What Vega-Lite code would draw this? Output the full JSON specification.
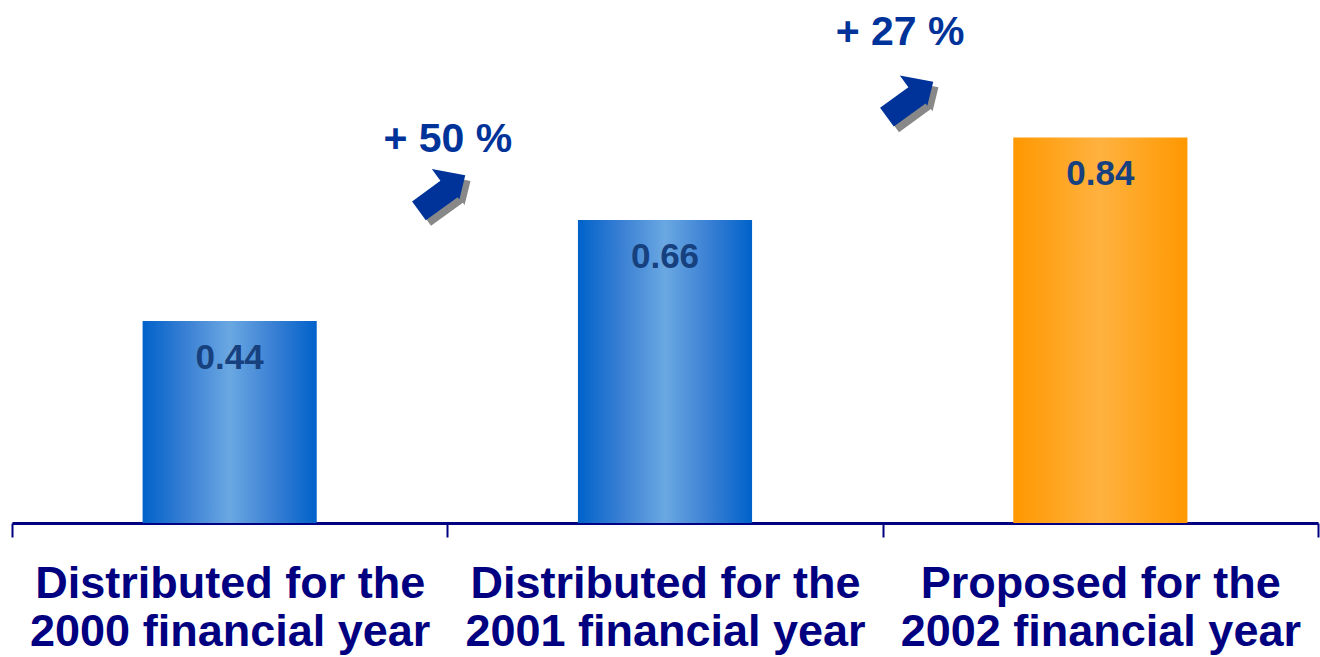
{
  "$schema": "https://vega.github.io/schema/vega-lite/v6.json",
  "width": 1306,
  "height": 523,
  "autosize": {"type": "none"},
  "padding": {"left": 12, "top": 0, "right": 2, "bottom": 134},
  "background": "white",
  "config": {"view": {"stroke": null}},
  "layer": [
    {
      "data": {"values": [
        {"cat": "Distributed for the|2000 financial year", "value": 0.44, "kind": "blue"},
        {"cat": "Distributed for the|2001 financial year", "value": 0.66, "kind": "blue"},
        {"cat": "Proposed for the|2002 financial year", "value": 0.84, "kind": "orange"}
      ]},
      "encoding": {
        "x": {
          "field": "cat", "type": "nominal", "sort": null,
          "scale": {"paddingInner": 0, "paddingOuter": 0},
          "axis": {
            "title": null, "labelAngle": 0,
            "labelExpr": "split(datum.label, '|')",
            "labelFont": "Liberation Sans", "labelFontWeight": "bold",
            "labelFontSize": 45, "labelLineHeight": 48, "labelColor": "#000080",
            "labelBaseline": "alphabetic", "labelPadding": 60,
            "domainColor": "#000080", "domainWidth": 3,
            "tickColor": "#000080", "tickWidth": 2, "tickSize": 14,
            "tickBand": "extent", "labelLimit": 0, "grid": false
          }
        },
        "y": {"field": "value", "type": "quantitative", "scale": {"domain": [0, 1.1394], "nice": false}, "axis": null}
      },
      "layer": [
        {
          "transform": [{"filter": "datum.kind == 'blue'"}],
          "mark": {"type": "bar", "width": {"band": 0.4}, "fill": {"gradient": "linear", "x1": 0, "x2": 1, "y1": 0, "y2": 0,
            "stops": [
              {"offset": 0, "color": "#0062CA"},
              {"offset": 0.25, "color": "#3A80D4"},
              {"offset": 0.5, "color": "#6AA8E2"},
              {"offset": 0.75, "color": "#3A80D4"},
              {"offset": 1, "color": "#0062CA"}
            ]}}
        },
        {
          "transform": [{"filter": "datum.kind == 'orange'"}],
          "mark": {"type": "bar", "width": {"band": 0.4}, "fill": {"gradient": "linear", "x1": 0, "x2": 1, "y1": 0, "y2": 0,
            "stops": [
              {"offset": 0, "color": "#FF9800"},
              {"offset": 0.5, "color": "#FFB240"},
              {"offset": 1, "color": "#FF9800"}
            ]}}
        },
        {
          "mark": {"type": "text", "baseline": "alphabetic", "dy": 48, "font": "Liberation Sans", "fontWeight": "bold", "fontSize": 35, "color": "#17407E"},
          "encoding": {"text": {"field": "value", "type": "quantitative", "format": ".2f"}}
        }
      ]
    },
    {
      "data": {"values": [
        {"px": 0.987, "py": 0.72, "sx": 0.999, "sy": 0.708, "pct": "+ 50 %", "tx": 1.001, "ty": 0.808},
        {"px": 2.062, "py": 0.924, "sx": 2.074, "sy": 0.912, "pct": "+ 27 %", "tx": 2.04, "ty": 1.041}
      ]},
      "layer": [
        {
          "mark": {"type": "point", "filled": true, "opacity": 1, "color": "#888888", "size": 3400, "angle": -36,
            "shape": "M -1 -0.35 L 0.2 -0.35 L 0.2 -0.85 L 1 0 L 0.35 0.55 L 0.35 0.45 L -1 0.45 Z"},
          "encoding": {
            "x": {"field": "sx", "type": "quantitative", "scale": {"domain": [0, 3], "nice": false, "zero": false}, "axis": null},
            "y": {"field": "sy", "type": "quantitative"}
          }
        },
        {
          "mark": {"type": "point", "filled": true, "opacity": 1, "color": "#003399", "size": 3400, "angle": -36,
            "shape": "M -1 -0.35 L 0.2 -0.35 L 0.2 -0.85 L 1 0 L 0.35 0.55 L 0.35 0.45 L -1 0.45 Z"},
          "encoding": {
            "x": {"field": "px", "type": "quantitative", "scale": {"domain": [0, 3], "nice": false, "zero": false}, "axis": null},
            "y": {"field": "py", "type": "quantitative"}
          }
        },
        {
          "mark": {"type": "text", "baseline": "alphabetic", "align": "center", "font": "Liberation Sans", "fontWeight": "bold", "fontSize": 41, "color": "#003399"},
          "encoding": {
            "x": {"field": "tx", "type": "quantitative", "scale": {"domain": [0, 3], "nice": false, "zero": false}, "axis": null},
            "y": {"field": "ty", "type": "quantitative"},
            "text": {"field": "pct"}
          }
        }
      ]
    }
  ],
  "resolve": {"scale": {"x": "independent"}}
}
